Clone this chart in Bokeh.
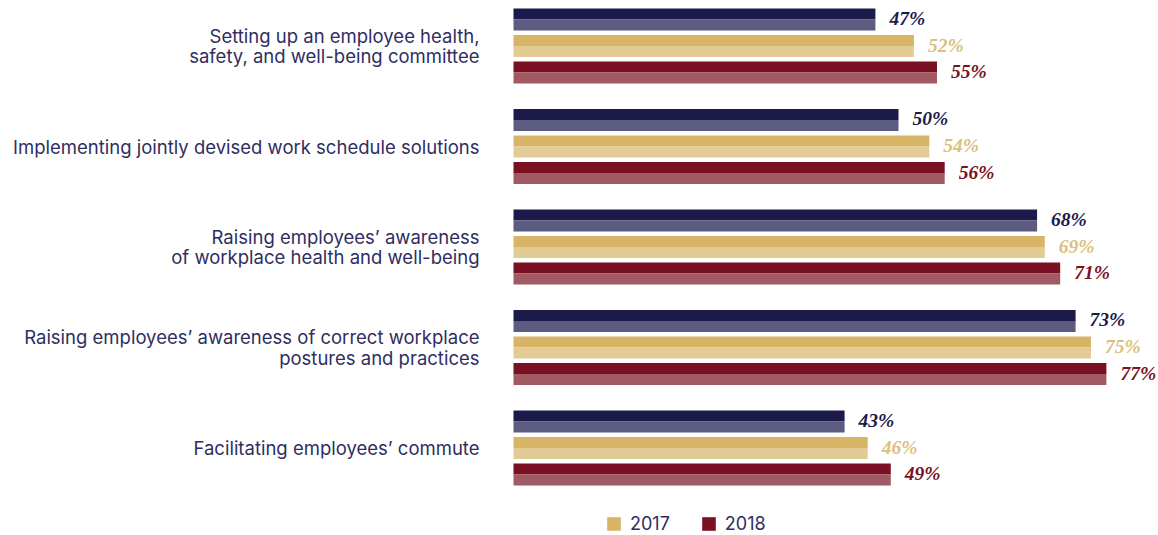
from bokeh.plotting import figure
from bokeh.models import Range1d, Legend, LegendItem, ColumnDataSource
from bokeh.core.properties import value
from bokeh.embed import file_html
from bokeh.resources import INLINE

categories = [
    "Setting up an employee health,\nsafety, and well-being committee",
    "Implementing jointly devised work schedule solutions",
    "Raising employees\u2019 awareness\nof workplace health and well-being",
    "Raising employees\u2019 awareness of correct workplace\npostures and practices",
    "Facilitating employees\u2019 commute",
]
series_names = ["2016", "2017", "2018"]
values_2016 = [47, 50, 68, 73, 43]
values_2017 = [52, 54, 69, 75, 46]
values_2018 = [55, 56, 71, 77, 49]

dark_colors = ["#1b1a4b", "#d8b466", "#7a1123"]
light_colors = ["#5c5c80", "#e3cb96", "#a15a64"]
label_colors = ["#1b1a4b", "#dcbf7c", "#7a1123"]

W, H = 1158, 535
px_x = 7.70
x0_px = 513
px_y = 100.5
y0_px = 45.5

p = figure(width=W, height=H, output_backend="svg", toolbar_location=None,
           min_border=0, x_axis_type=None, y_axis_type=None)
x_start = -x0_px / px_x
p.x_range = Range1d(x_start, x_start + W / px_x)
y_top = -y0_px / px_y
p.y_range = Range1d(y_top + H / px_y, y_top)
p.outline_line_color = None
p.grid.visible = False
p.background_fill_color = None
p.border_fill_color = "white"

offset = 0.264
bar_h = 0.219
renderers = []
for s, vals in enumerate([values_2016, values_2017, values_2018]):
    ys = [i + (s - 1) * offset for i in range(len(categories))]
    src = ColumnDataSource(dict(
        y_dark=[y - bar_h / 4 for y in ys],
        y_light=[y + bar_h / 4 for y in ys],
        y=ys, v=vals, lbl=[f"{v}%" for v in vals]))
    r = p.hbar(y="y_dark", right="v", left=0, height=bar_h / 2, source=src,
               fill_color=dark_colors[s], line_color=None)
    p.hbar(y="y_light", right="v", left=0, height=bar_h / 2, source=src,
           fill_color=light_colors[s], line_color=None)
    p.text(x="v", y="y", text="lbl", source=src, x_offset=14, y_offset=-1,
           text_align="left", text_baseline="middle",
           text_font=value("Liberation Serif"), text_font_style="bold italic",
           text_font_size="19.5px", text_color=label_colors[s])
    renderers.append(r)

cat_src = ColumnDataSource(dict(y=list(range(len(categories))), x=[0] * len(categories), t=categories))
p.text(x="x", y="y", text="t", source=cat_src, x_offset=-34,
       text_align="right", text_baseline="middle",
       text_font=value("Inter"), text_font_size="18.5px",
       text_color="#2f2e5f", text_line_height=0.95)

legend = Legend(items=[LegendItem(label="2017", renderers=[renderers[1]]),
                       LegendItem(label="2018", renderers=[renderers[2]])],
                orientation="horizontal", location=(605, 1),
                glyph_width=17, glyph_height=17, label_standoff=8, spacing=30,
                padding=0, margin=0, border_line_color=None,
                background_fill_alpha=0, label_text_font="Inter",
                label_text_font_size="18px", label_text_color="#2f2e5f")
p.add_layout(legend)

open("out.html", "w").write(file_html(p, INLINE))
